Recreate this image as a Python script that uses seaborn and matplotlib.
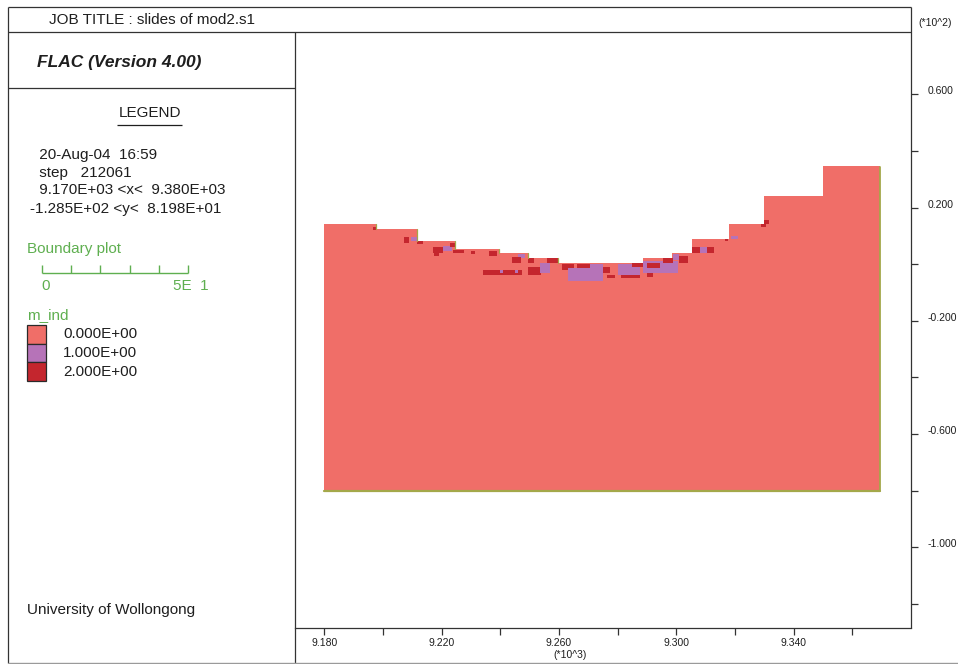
import numpy as np
import matplotlib
matplotlib.use("Agg")
import matplotlib.pyplot as plt
from matplotlib.colors import ListedColormap, BoundaryNorm
from matplotlib.lines import Line2D
from matplotlib.patches import Rectangle
import seaborn as sns

# ---------------- model geometry ----------------
# bench edges (x) and the surface elevation of each bench
bench_x_edges = [9180.0, 9197.5, 9211.5, 9224.5, 9239.5, 9249.5, 9259.5,
                 9288.5, 9298.5, 9305.5, 9318.0, 9330.0, 9350.0, 9369.5]
bench_top = [14.0, 12.3, 8.1, 5.3, 4.0, 2.0, 0.4, 2.1, 3.9, 9.2, 14.1, 24.0, 34.3]
mesh_bottom = -80.0
cell_size = 0.5

# zones where the material index differs from 0 (m, x0, x1, y0, y1)
zone_m = [2, 2, 1, 2,
          2, 1, 2, 2, 2,
          2, 1, 2, 2, 1, 1,
          2, 1, 2, 2,
          2, 2, 1, 1,
          2, 2, 1, 2, 2,
          1, 2, 2, 2, 2, 1, 2,
          2, 1, 2, 2, 1, 2, 2]
zone_x0 = [9196.5, 9207.0, 9209.5, 9211.5,
           9217.0, 9220.5, 9224.0, 9217.5, 9223.0,
           9236.0, 9246.0, 9244.0, 9234.0, 9240.0, 9245.0,
           9249.5, 9253.5, 9256.0, 9249.5,
           9261.0, 9266.0, 9263.0, 9270.5,
           9275.0, 9276.5, 9280.0, 9281.0, 9285.0,
           9288.5, 9290.0, 9290.0, 9295.5, 9301.0, 9299.0, 9304.5,
           9316.5, 9318.5, 9329.0, 9330.0, 9308.0, 9226.0, 9230.0]
zone_x1 = [9197.5, 9209.0, 9211.5, 9213.5,
           9220.5, 9223.5, 9226.0, 9219.0, 9224.5,
           9239.0, 9248.5, 9247.0, 9247.5, 9241.0, 9246.0,
           9254.0, 9257.0, 9259.5, 9251.5,
           9265.0, 9270.5, 9275.0, 9275.0,
           9277.5, 9279.0, 9287.5, 9287.5, 9288.5,
           9300.5, 9294.5, 9292.0, 9299.0, 9304.0, 9301.0, 9313.0,
           9317.5, 9321.0, 9330.5, 9331.5, 9310.5, 9227.5, 9231.5]
zone_y0 = [12.0, 7.5, 8.0, 7.0,
           4.0, 4.5, 4.0, 3.0, 6.0,
           3.0, 2.0, 0.5, -4.0, -3.0, -3.0,
           -4.0, -3.0, 0.5, 0.5,
           -2.0, -1.5, -6.0, -1.5,
           -3.0, -5.0, -4.0, -5.0, -1.0,
           -3.0, -1.5, -4.5, 0.5, 0.5, 1.5, 4.0,
           8.0, 9.0, 13.0, 14.0, 4.0, 4.0, 3.5]
zone_y1 = [13.0, 9.5, 9.5, 8.0,
           6.0, 6.5, 5.0, 4.0, 7.5,
           4.5, 3.5, 2.5, -2.0, -2.0, -2.0,
           -1.0, 0.5, 2.0, 2.0,
           0.0, 0.0, -1.5, 0.0,
           -1.0, -4.0, 0.0, -4.0, 0.5,
           1.0, 0.5, -3.0, 2.0, 3.0, 3.5, 6.0,
           9.0, 10.0, 14.5, 15.5, 6.0, 5.0, 4.5]

mind_values = [0, 1, 2]
mind_labels = ["0.000E+00", "1.000E+00", "2.000E+00"]
mind_colors = ["#F06E68", "#B673B8", "#C4262E"]

x_range = (9170.0, 9380.0)
y_range = (-128.5, 81.98)
x_major = [9180, 9220, 9260, 9300, 9340]
x_minor = [9200, 9240, 9280, 9320, 9360]
y_major = [60, 20, -20, -60, -100]
y_minor = [40, 0, -40, -80, -120]

job_title = "JOB TITLE : slides of mod2.s1"
program = "FLAC (Version 4.00)"
info_lines = [" 20-Aug-04  16:59", " step   212061",
              " 9.170E+03 <x<  9.380E+03", "-1.285E+02 <y<  8.198E+01"]
scale_length = 50.0
scale_step = 10.0
footer = "University of Wollongong"

# ---------------- style ----------------
sns.set_theme(style="white")
plt.rcParams["font.family"] = ["Liberation Sans", "DejaVu Sans"]
ink = "#1e1e1e"
frame = "#333333"
green = "#5FAF50"
olive = "#A4A84A"

W, H = 958, 664
fig = plt.figure(figsize=(W / 100, H / 100), dpi=100)
fig.patch.set_facecolor("white")


def fx(px):
    return px / W


def fy(py):
    return 1 - py / H


def fline(x0, y0, x1, y1, color=frame, lw=0.9):
    fig.add_artist(Line2D([fx(x0), fx(x1)], [fy(y0), fy(y1)],
                          transform=fig.transFigure, color=color, lw=lw,
                          solid_capstyle="butt"))


# ---------------- main plot ----------------
ax_l, ax_r, ax_t, ax_b = 295, 911, 32, 628
ax = fig.add_axes([fx(ax_l), fy(ax_b), (ax_r - ax_l) / W, (ax_b - ax_t) / H])
ax.patch.set_alpha(0)

xe = np.arange(bench_x_edges[0], bench_x_edges[-1] + 1e-9, cell_size)
ye = np.arange(mesh_bottom, max(bench_top) + cell_size + 1e-9, cell_size)
xc = 0.5 * (xe[:-1] + xe[1:])
yc = 0.5 * (ye[:-1] + ye[1:])
bench_idx = np.searchsorted(bench_x_edges, xc, side="right") - 1
top_at = np.asarray(bench_top)[bench_idx]
grid = np.where(yc[:, None] < top_at[None, :], 0.0, np.nan)
for m, x0, x1, y0, y1 in zip(zone_m, zone_x0, zone_x1, zone_y0, zone_y1):
    cols = (xc > x0) & (xc < x1)
    rows = (yc > y0) & (yc < y1)
    block = grid[np.ix_(rows, cols)]
    block[~np.isnan(block)] = m
    grid[np.ix_(rows, cols)] = block

cmap = ListedColormap(mind_colors)
norm = BoundaryNorm([-0.5, 0.5, 1.5, 2.5], cmap.N)
ax.pcolormesh(xe, ye, np.ma.masked_invalid(grid), cmap=cmap, norm=norm,
              shading="flat", antialiased=False, linewidth=0)

# boundary: base, right side and descending risers
sns.lineplot(x=[bench_x_edges[0], bench_x_edges[-1]], y=[mesh_bottom, mesh_bottom],
             ax=ax, color=olive, lw=1.6, sort=False)
ax.plot([bench_x_edges[-1]] * 2, [mesh_bottom, bench_top[-1]], color=olive, lw=1.3)
for i in range(1, len(bench_top)):
    if bench_top[i] < bench_top[i - 1]:
        ax.plot([bench_x_edges[i]] * 2, [bench_top[i], bench_top[i - 1]],
                color=olive, lw=0.9)

ax.set_xlim(*x_range)
ax.set_ylim(*y_range)
for side in ["left", "top", "right"]:
    ax.spines[side].set_visible(False)
ax.spines["bottom"].set_color(frame)
ax.spines["bottom"].set_linewidth(0.9)

ax.yaxis.tick_right()
ax.set_yticks(y_major)
ax.set_yticklabels([f"{v / 100:.3f}" for v in y_major])
ax.set_yticks(y_minor, minor=True)
ax.tick_params(axis="y", which="both", direction="out", length=5, width=0.9,
               color=frame, right=True, left=False, labelright=True,
               labelleft=False, labelsize=7.5, labelcolor=ink, pad=7)
for lbl in ax.get_yticklabels():
    lbl.set_va("baseline")

ax.set_xticks(x_major)
ax.set_xticklabels([f"{v / 1000:.3f}" for v in x_major])
ax.set_xticks(x_minor, minor=True)
ax.tick_params(axis="x", which="both", direction="out", length=5, width=0.9,
               color=frame, bottom=True, top=False, labelsize=7.5,
               labelcolor=ink, pad=2)
ax.grid(False)

fig.text(fx(918), fy(23), "(*10^2)", fontsize=7.5, color=ink, va="center", ha="left")
fig.text(fx(570), fy(655), "(*10^3)", fontsize=7.5, color=ink, va="center", ha="center")

# ---------------- frame ----------------
fline(8, 7, 911, 7)
fline(8, 7, 8, 663)
fline(8, 32, 911, 32)
fline(8, 88, 295, 88)
fline(295, 32, 295, 664)
fline(911, 7, 911, 628)
fline(8, 663, 958, 663, color="#9a9a9a", lw=1.0)

# ---------------- left panel ----------------
fig.text(fx(152), fy(19.5), job_title, fontsize=11, color=ink, ha="center", va="center")
fig.text(fx(37), fy(62), program, fontsize=12.5, color=ink, ha="left", va="center",
         fontweight="bold", fontstyle="italic")
fig.text(fx(149.5), fy(113), "LEGEND", fontsize=11, color=ink, ha="center", va="center")
fline(117, 125, 182, 125, color=ink, lw=0.9)

info_x = [35, 35, 35, 30]
info_y = [155, 172.5, 190, 209]
for txt, x, y in zip(info_lines, info_x, info_y):
    fig.text(fx(x), fy(y), txt, fontsize=11, color=ink, ha="left", va="center")

fig.text(fx(27), fy(249), "Boundary plot", fontsize=11, color=green, ha="left", va="center")
px_per_unit = (ax_r - ax_l) / (x_range[1] - x_range[0])
bar_x0, bar_y = 41.7, 273
fline(bar_x0, bar_y, bar_x0 + scale_length * px_per_unit, bar_y, color=green, lw=1.0)
for k in range(int(scale_length / scale_step) + 1):
    tx = bar_x0 + k * scale_step * px_per_unit
    fline(tx, bar_y, tx, bar_y - 8, color=green, lw=1.0)
fig.text(fx(bar_x0 + 4), fy(286), "0", fontsize=11, color=green, ha="center", va="center")
fig.text(fx(173), fy(286), "5E  1", fontsize=11, color=green, ha="left", va="center")

fig.text(fx(27), fy(315), "m_ind", fontsize=11, color=green, ha="left", va="center")
sw_x0, sw_w, sw_top, sw_h = 27, 19, 325, 18.7
for i, (val, lab, col) in enumerate(zip(mind_values, mind_labels, mind_colors)):
    top = sw_top + i * sw_h
    fig.add_artist(Rectangle((fx(sw_x0), fy(top + sw_h)), sw_w / W, sw_h / H,
                             transform=fig.transFigure, facecolor=col,
                             edgecolor="#2a2a2a", lw=0.9))
    fig.text(fx(63), fy(top + sw_h / 2), lab, fontsize=11, color=ink,
             ha="left", va="center")

fig.text(fx(27), fy(610), footer, fontsize=11, color=ink, ha="left", va="center")

fig.savefig("out.png", dpi=100, facecolor="white")
